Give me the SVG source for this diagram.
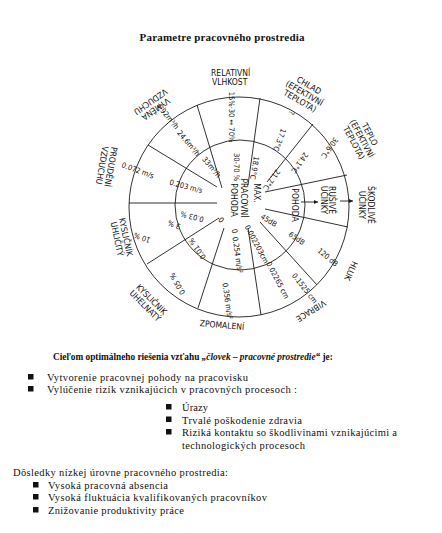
<svg xmlns="http://www.w3.org/2000/svg" width="442" height="533" viewBox="0 0 442 533">
<style>
.ln{stroke:#1a1a1a;stroke-width:0.9;fill:none}
.lb{font-family:"Liberation Sans Narrow","DejaVu Sans Condensed","Liberation Sans",sans-serif;font-size:8.5px;fill:#111;text-anchor:middle}
.vl{font-family:"Liberation Sans Narrow","DejaVu Sans Condensed","Liberation Sans",sans-serif;font-size:7.5px;fill:#111;text-anchor:middle}
.tx{font-family:"Liberation Serif",serif;font-size:10.5px;fill:#111}
.hd{font-family:"Liberation Serif",serif;font-size:11px;font-weight:bold;fill:#111}
.bl{fill:#111}
</style>
<defs>
<marker id="ah" viewBox="0 0 6 6" refX="6" refY="3" markerWidth="5" markerHeight="5" orient="auto"><path d="M0,0 L6,3 L0,6 z" fill="#1a1a1a"/></marker>
</defs>
<rect width="442" height="533" fill="#fff"/>
<text id="title" class="hd" x="222" y="41" text-anchor="middle" textLength="165">Parametre pracovného prostredia</text>

<g id="wheel">
<circle class="ln" cx="239" cy="207" r="110"/>
<circle class="ln" cx="240" cy="205" r="65"/>
</g>
<g id="connectors">
<line class="ln" x1="148" y1="145" x2="217" y2="187"/>
<line class="ln" x1="197" y1="105" x2="222" y2="188"/>
<line class="ln" x1="260" y1="98" x2="248" y2="185"/>
<line class="ln" x1="313" y1="124" x2="267" y2="182"/>
<line class="ln" x1="347" y1="175" x2="265" y2="192"/>
<line class="ln" x1="348" y1="227" x2="265" y2="209"/>
<line class="ln" x1="317" y1="285" x2="260" y2="222"/>
<line class="ln" x1="261" y1="315" x2="248" y2="228"/>
<line class="ln" x1="198" y1="308" x2="224" y2="228"/>
<line class="ln" x1="147" y1="264" x2="219" y2="218"/>
<line class="ln" x1="129" y1="203" x2="217" y2="203"/>
<line class="ln" x1="301" y1="202" x2="318" y2="202" marker-end="url(#ah)"/>
<line class="ln" x1="340" y1="201" x2="353" y2="201" marker-end="url(#ah)"/>
</g>

<g id="center">
<text class="lb" transform="translate(244,198) rotate(90)" dy="3">PRACOVNÍ</text>
<text class="lb" transform="translate(234,200) rotate(90)" dy="3">POHODA</text>
<text class="lb" transform="translate(257,193) rotate(90)" dy="3">MAX.</text>
</g>

<g id="relativni-vlhkost">
<text class="lb" x="211" y="76" style="text-anchor:start">RELATIVNÍ</text>
<text class="lb" x="212" y="85" style="text-anchor:start">VLHKOST</text>
<text class="vl" transform="translate(232,117) rotate(90)" dy="3">15%·30 ↔ 70%</text>
<text class="vl" transform="translate(237,167) rotate(90)" dy="3">30-70 %</text>
</g>

<g id="chlad">
<g transform="translate(304,94) rotate(30)">
<text class="lb" y="-7">CHLAD</text>
<text class="lb" y="2">(EFEKTIVNÍ</text>
<text class="lb" y="11">TEPLOTA)</text>
</g>
<text class="vl" transform="translate(292,113) rotate(110)" dy="3">?</text>
<text class="vl" transform="translate(280,140) rotate(110)" dy="3">17.3°C</text>
<text class="vl" transform="translate(255,168) rotate(100)" dy="3">18.9°C</text>
</g>

<g id="teplo">
<g transform="translate(361,139) rotate(62)">
<text class="lb" y="-7">TEPLO</text>
<text class="lb" y="2">(EFEKTIVNÍ</text>
<text class="lb" y="11">TEPLOTA)</text>
</g>
<text class="vl" transform="translate(330,148) rotate(125)" dy="3">30.6°C</text>
<text class="vl" transform="translate(300,163) rotate(125)" dy="3">24.1°C</text>
<text class="vl" transform="translate(272,180) rotate(125)" dy="3">21.7°C</text>
</g>

<g id="ucinky">
<text class="lb" transform="translate(295,205) rotate(90)" dy="3">POHODA</text>
<text class="lb" transform="translate(332,200) rotate(90)" dy="3">RUŠIVÉ</text>
<text class="lb" transform="translate(324,200) rotate(90)" dy="3">ÚČINKY</text>
<text class="lb" transform="translate(371,205) rotate(90)" dy="3">ŠKODLIVÉ</text>
<text class="lb" transform="translate(362,205) rotate(90)" dy="3">ÚČINKY</text>
</g>

<g id="hluk">
<text class="lb" transform="translate(351,271) rotate(115)" dy="3">HLUK</text>
<text class="vl" transform="translate(269,220) rotate(32)" dy="3">45dB</text>
<text class="vl" transform="translate(297,238) rotate(35)" dy="3">65dB</text>
<text class="vl" transform="translate(328,257) rotate(40)" dy="3">120 dB</text>
</g>

<g id="vibrace">
<text class="lb" transform="translate(311,311) rotate(148)" dy="3">VIBRACE</text>
<text class="vl" transform="translate(257,244) rotate(62)" dy="3">0.002203cm</text>
<text class="vl" transform="translate(278,280) rotate(62)" dy="3">0.02265 cm</text>
<text class="vl" transform="translate(305,288) rotate(52)" dy="3">0.1525 cm</text>
</g>

<g id="zpomaleni">
<text class="lb" transform="translate(222,325) rotate(5)" dy="3">ZPOMALENÍ</text>
<text class="vl" transform="translate(235,231) rotate(80)" dy="3">0</text>
<text class="vl" transform="translate(238,255) rotate(82)" dy="3">0.254 m/s²</text>
<text class="vl" transform="translate(228,301) rotate(82)" dy="3">0.356 m/s²</text>
</g>

<g id="kyslicnik-uhelnaty">
<g transform="translate(148,303) rotate(45)">
<text class="lb" y="-2">KYSLIČNÍK</text>
<text class="lb" y="7">UHELNATÝ</text>
</g>
<text class="vl" transform="translate(221,220) rotate(230)" dy="3">0</text>
<text class="vl" transform="translate(197,249) rotate(235)" dy="3">0.01 %</text>
<text class="vl" transform="translate(177,284) rotate(240)" dy="3">0.05 %</text>
</g>

<g id="kyslicnik-uhlicity">
<g transform="translate(121,238) rotate(78)">
<text class="lb" y="-2">KYSLIČNÍK</text>
<text class="lb" y="7">UHLIČITÝ</text>
</g>
<text class="vl" transform="translate(192,217) rotate(195)" dy="3">0.03 %</text>
<text class="vl" transform="translate(174,225) rotate(200)" dy="3">3 %</text>
<text class="vl" transform="translate(142,238) rotate(200)" dy="3">10 %</text>
</g>

<g id="proudeni-vzduchu">
<g transform="translate(106,166) rotate(100)">
<text class="lb" y="-2">PROUDĚNÍ</text>
<text class="lb" y="7">VZDUCHU</text>
</g>
<text class="vl" transform="translate(138,170) rotate(20)" dy="3">0.072 m/s</text>
<text class="vl" transform="translate(186,186) rotate(15)" dy="3">0.203 m/s</text>
</g>

<g id="vymena-vzduchu">
<g transform="translate(153,105) rotate(145)">
<text class="lb" y="-2">VÝMĚNA</text>
<text class="lb" y="7">VZDUCHU</text>
</g>
<text class="vl" transform="translate(168,116) rotate(50)" dy="3">4.92m³/h</text>
<text class="vl" transform="translate(189,143) rotate(50)" dy="3">24.6m³/h</text>
<text class="vl" transform="translate(212,167) rotate(50)" dy="3">33m³/h</text>
</g>

<g id="goal">
<text class="hd" x="53" y="360" style="font-size:9.3px">Cieľom optimálneho riešenia vzťahu <tspan font-style="italic">„človek – pracovné prostredie“</tspan> je:</text>
<rect class="bl" x="28" y="374" width="5.5" height="5.5"/>
<text class="tx" x="47" y="381" textLength="201">Vytvorenie pracovnej pohody na pracovisku</text>
<rect class="bl" x="28" y="386" width="5.5" height="5.5"/>
<text class="tx" x="47" y="393" textLength="250">Vylúčenie rizík vznikajúcich v pracovných procesoch :</text>
<rect class="bl" x="166" y="404" width="5.5" height="5.5"/>
<text class="tx" x="182" y="411" textLength="26">Úrazy</text>
<rect class="bl" x="166" y="416.5" width="5.5" height="5.5"/>
<text class="tx" x="182" y="423.5" textLength="120">Trvalé poškodenie zdravia</text>
<rect class="bl" x="166" y="429" width="5.5" height="5.5"/>
<text class="tx" x="182" y="436" textLength="215">Riziká kontaktu so škodlivinami vznikajúcimi a</text>
<text class="tx" x="182" y="449" textLength="123">technologických procesoch</text>
</g>

<g id="consequences">
<text class="tx" x="13" y="476" textLength="215">Dôsledky nízkej úrovne pracovného prostredia:</text>
<rect class="bl" x="33" y="482" width="5.5" height="5.5"/>
<text class="tx" x="48" y="489" textLength="120">Vysoká pracovná absencia</text>
<rect class="bl" x="33" y="494" width="5.5" height="5.5"/>
<text class="tx" x="48" y="501" textLength="219">Vysoká fluktuácia kvalifikovaných pracovníkov</text>
<rect class="bl" x="33" y="507" width="5.5" height="5.5"/>
<text class="tx" x="48" y="514" textLength="136">Znižovanie produktivity práce</text>
</g>
</svg>
